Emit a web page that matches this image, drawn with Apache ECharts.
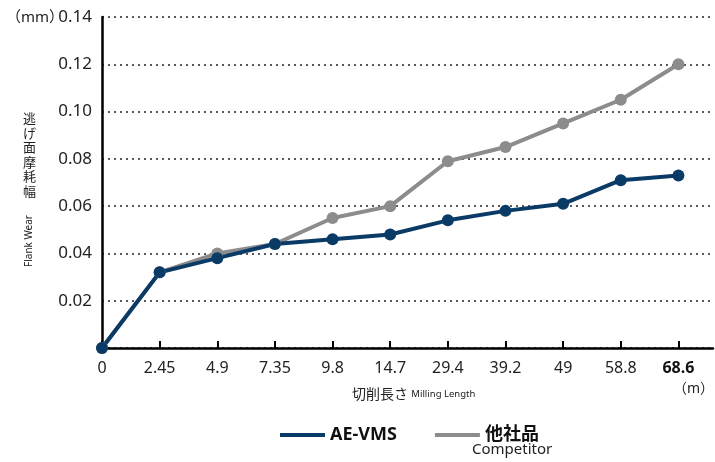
<!DOCTYPE html>
<html><head><meta charset="utf-8">
<script src="https://cdn.jsdelivr.net/npm/echarts@6/dist/echarts.min.js"></script>
<style>html,body{margin:0;padding:0;background:#fff}#c{width:715px;height:462px}</style>
</head><body><div id="c"></div>
<script>
const categories = ['0','2.45','4.9','7.35','9.8','14.7','29.4','39.2','49','58.8','68.6'];
const aeVms = [0, 0.032, 0.038, 0.044, 0.046, 0.048, 0.054, 0.058, 0.061, 0.071, 0.073];
const competitor = [0, 0.032, 0.040, 0.044, 0.055, 0.060, 0.079, 0.085, 0.095, 0.105, 0.120];
const yTicks = [0.02, 0.04, 0.06, 0.08, 0.10, 0.12, 0.14];

const FONT = '"Noto Sans", "Noto Sans CJK JP", sans-serif';
const idx = categories.map((c, i) => i);
const chart = echarts.init(document.getElementById('c'));
chart.setOption({
  animation: false,
  textStyle: { fontFamily: FONT },
  grid: { left: 102, right: 2, top: 17, bottom: 114 },
  legend: {
    data: ['AE-VMS', '他社品'],
    bottom: 13, left: 275,
    icon: 'rect', itemWidth: 45, itemHeight: 4, itemGap: 38,
    textStyle: { fontSize: 18, fontWeight: 'bold', color: '#111', fontFamily: FONT }
  },
  xAxis: {
    type: 'value', min: 0, max: 10.6,
    axisLine: { lineStyle: { color: '#000', width: 2.5 } },
    axisTick: { show: true, inside: true, length: 7, lineStyle: { color: '#000', width: 2 }, customValues: idx },
    splitLine: { show: false },
    axisLabel: {
      customValues: idx, margin: 12, color: '#222', fontSize: 16,
      formatter: v => {
        const i = Math.round(v);
        return i === categories.length - 1 ? '{b|' + categories[i] + '}' : categories[i];
      },
      rich: { b: { fontWeight: 'bold', fontSize: 16, color: '#111' } }
    }
  },
  yAxis: {
    type: 'value', min: 0, max: 0.14, interval: 0.02,
    axisLine: { show: true, lineStyle: { color: '#000', width: 2.5 } },
    axisTick: { show: false },
    splitLine: { show: true, lineStyle: { color: '#222', type: [2, 4], width: 1.5 } },
    axisLabel: {
      margin: 10, color: '#222', fontSize: 17,
      formatter: v => yTicks.some(t => Math.abs(t - v) < 1e-9) ? v.toFixed(2) : ''
    }
  },
  series: [
    { name: '他社品', type: 'line', data: idx.map(i => [i, competitor[i]]),
      symbol: 'circle', symbolSize: 12, color: '#8c8c8c',
      lineStyle: { width: 4, color: '#8c8c8c' }, itemStyle: { color: '#8c8c8c' } },
    { name: 'AE-VMS', type: 'line', data: idx.map(i => [i, aeVms[i]]),
      symbol: 'circle', symbolSize: 12, color: '#0a3a66',
      lineStyle: { width: 4, color: '#0a3a66' }, itemStyle: { color: '#0a3a66' } }
  ],
  graphic: [
    { type: 'text', left: 6, top: 10, style: { text: '（mm）', fontSize: 15, fill: '#222', fontFamily: FONT } },
    { type: 'text', left: 23, top: 111, style: { text: '逃\nげ\n面\n摩\n耗\n幅', fontSize: 13, lineHeight: 14.5, fill: '#222', fontFamily: '"Noto Sans CJK JP", sans-serif' } },
    { type: 'text', x: 29, y: 267, rotation: Math.PI / 2, style: { text: 'Flank Wear', fontSize: 10, fill: '#222', fontFamily: FONT, align: 'left', verticalAlign: 'middle' } },
    { type: 'text', left: 352, top: 387, style: { rich: { a: { fontSize: 14, fill: '#222', fontFamily: '"Noto Sans CJK JP", sans-serif' }, b: { fontSize: 9.5, fill: '#222', fontFamily: FONT } }, text: '{a|切削長さ} {b|Milling Length}' } },
    { type: 'text', right: 1, top: 382, style: { text: '（m）', fontSize: 14, fill: '#222', fontFamily: FONT } },
    { type: 'text', left: 472, top: 442, style: { text: 'Competitor', fontSize: 15, fill: '#222', fontFamily: FONT } }
  ]
});
</script></body></html>
